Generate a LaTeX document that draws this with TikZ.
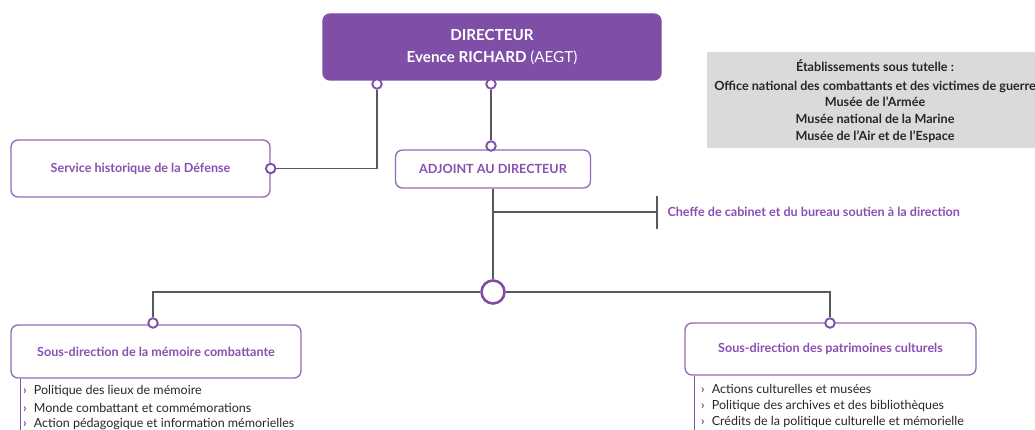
\documentclass[tikz,border=0pt]{standalone}
\usepackage{fontspec}
\setmainfont{Lato}
\usetikzlibrary{positioning}
\definecolor{mauve}{HTML}{7F4FA7}
\definecolor{mauvetxt}{HTML}{8A4FB2}
\definecolor{trait}{HTML}{58585F}
\definecolor{gristut}{HTML}{DADADA}
\tikzset{
  boite/.style={draw=mauve!85, line width=1.3pt, rounded corners=7pt, fill=white,
    text=mauvetxt, font=\bfseries\fontsize{12.6}{14}\selectfont},
  rond/.style={circle, draw=mauve, fill=white, line width=1.9pt, inner sep=0pt, minimum size=9.5pt},
  lien/.style={draw=trait, line width=1.1pt},
  puce/.style={anchor=west, inner sep=0pt, text=black!85, font=\fontsize{12.5}{14}\selectfont},
}
\begin{document}
\begin{tikzpicture}[x=1pt,y=-1pt]
    \useasboundingbox (0,0) rectangle (1035,430);
    % etablissements sous tutelle
    \fill[gristut] (707,52) rectangle (1045,148);
    \node[align=center, font=\bfseries\fontsize{12.6}{16.7}\selectfont, text=black!85] (tut) at (875,101)
        {Établissements sous tutelle :\\[2pt]Office national des combattants et des victimes de guerre\\Musée de l’Armée\\Musée national de la Marine\\Musée de l’Air et de l’Espace};
    % boites
    \node[boite, fill=mauve, draw=mauve, text=white, minimum width=338pt, minimum height=66pt, align=center,
        font=\bfseries\fontsize{15.2}{21.5}\selectfont] (dir) at (492,47) {DIRECTEUR\\Evence RICHARD \mdseries(AEGT)};
    \node[boite, minimum width=259pt, minimum height=57pt] (shd) at (140.5,168.5) {Service historique de la Défense};
    \node[boite, minimum width=195pt, minimum height=38pt] (adj) at (493,169) {ADJOINT AU DIRECTEUR};
    \node[boite, minimum width=290pt, minimum height=53pt] (sdm) at (156,351.5) {Sous-direction de la mémoire combattante};
    \node[boite, minimum width=291pt, minimum height=52pt] (sdp) at (830.5,349) {Sous-direction des patrimoines culturels};
    % liens
    \node[rond] (c1) at (377,84) {};
    \node[rond] (c2) at (491,84) {};
    \node[rond] (c3) at (shd.east) {};
    \node[rond] (c4) at (491,146) {};
    \node[rond, minimum size=23pt, line width=2.6pt] (hub) at (493,292) {};
    \node[rond] (c5) at (153,323) {};
    \node[rond] (c6) at (830,323) {};
    \draw[lien] (c1) |- (c3);
    \draw[lien] (c2) -- (c4);
    \draw[lien] (adj) -- (hub);
    \draw[lien] (hub) -| (c5);
    \draw[lien] (hub) -| (c6);
    \coordinate (emb) at (493,212);
    \coordinate (cab) at (657,212);
    \draw[lien] (emb) -- (cab);
    \draw[lien] (657,196) -- (657,229);
    \node[anchor=west, text=mauvetxt, font=\bfseries\fontsize{12.6}{14}\selectfont] (cabt) at (664,212)
        {Cheffe de cabinet et du bureau soutien à la direction};
    % missions
    \draw[mauve, line width=1.3pt] (sdm.south west) ++(10,0) -- ++(0,60);
    \draw[mauve, line width=1.3pt] (sdp.south west) ++(10,0) -- ++(0,60);
    \foreach \t [count=\i] in {Politique des lieux de mémoire, Monde combattant et commémorations,
        Action pédagogique et information mémorielles}
        \node[puce] (m\i) at (23,374.5+16.5*\i) {\textcolor{mauve}{\bfseries›}\hspace{7pt}\t};
    \foreach \t [count=\i] in {Actions culturelles et musées, Politique des archives et des bibliothèques,
        Crédits de la politique culturelle et mémorielle}
        \node[puce] (p\i) at (701,372.5+16.5*\i) {\textcolor{mauve}{\bfseries›}\hspace{7pt}\t};
\end{tikzpicture}
\end{document}
